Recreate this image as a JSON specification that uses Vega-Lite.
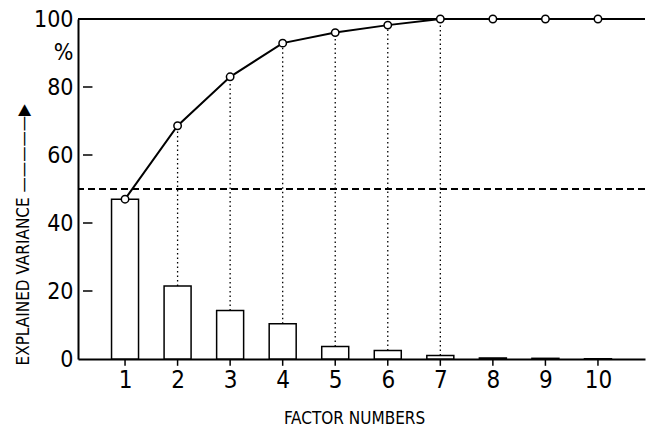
{
  "$schema": "https://vega.github.io/schema/vega-lite/v6.json",
  "width": 567,
  "height": 340,
  "autosize": "none",
  "padding": {"left": 78, "top": 19, "right": 4, "bottom": 67},
  "background": "white",
  "config": {
    "view": {"stroke": null},
    "font": "DejaVu Sans Condensed, DejaVu Sans, sans-serif",
    "axis": {
      "grid": false,
      "ticks": false,
      "domainColor": "black",
      "labelColor": "black",
      "titleColor": "black",
      "labelFont": "DejaVu Sans Condensed, DejaVu Sans, sans-serif",
      "titleFont": "DejaVu Sans Condensed, DejaVu Sans, sans-serif",
      "titleFontWeight": "normal",
      "labelOverlap": false
    }
  },
  "datasets": {
    "factors": [
      {"factor": 1, "var": 47.0, "cum": 47.0},
      {"factor": 2, "var": 21.5, "cum": 68.6},
      {"factor": 3, "var": 14.3, "cum": 83.0},
      {"factor": 4, "var": 10.4, "cum": 92.9},
      {"factor": 5, "var": 3.7, "cum": 96.0},
      {"factor": 6, "var": 2.5, "cum": 98.2},
      {"factor": 7, "var": 1.0, "cum": 100.0},
      {"factor": 8, "var": 0.3, "cum": 100.0},
      {"factor": 9, "var": 0.2, "cum": 100.0},
      {"factor": 10, "var": 0.1, "cum": 100.0}
    ],
    "yticks": [{"v": 20}, {"v": 40}, {"v": 60}, {"v": 80}]
  },
  "data": {"name": "factors"},
  "layer": [
    {
      "mark": {"type": "bar", "width": 27, "fill": "white", "stroke": "black", "strokeWidth": 1.5},
      "encoding": {
        "x": {
          "field": "factor",
          "type": "quantitative",
          "scale": {"domain": [0.2, 10.8], "nice": false, "zero": false},
          "axis": {
            "values": [1, 2, 3, 4, 5, 6, 7, 8, 9, 10],
            "title": "FACTOR NUMBERS",
            "domainWidth": 2,
            "labelFontSize": 24,
            "labelPadding": 9,
            "labelFlush": false,
            "titleFontSize": 17,
            "titleX": 276,
            "titleY": 64,
            "titleBaseline": "alphabetic",
            "titleAlign": "center"
          }
        },
        "y": {
          "field": "var",
          "type": "quantitative",
          "scale": {"domain": [0, 100], "nice": false},
          "axis": {
            "values": [0, 20, 40, 60, 80, 100],
            "title": "EXPLAINED VARIANCE —————▶",
            "domainWidth": 2,
            "labelFontSize": 23,
            "labelPadding": 5,
            "labelLineHeight": 33,
            "labelExpr": "datum.value == 100 ? ['100', '%'] : datum.label",
            "titleFontSize": 17,
            "titleAngle": -90,
            "titleX": -50,
            "titleY": 346,
            "titleAlign": "left",
            "titleBaseline": "alphabetic"
          }
        }
      }
    },
    {
      "mark": {"type": "rule", "color": "black", "strokeWidth": 1.5},
      "encoding": {
        "x": {"field": "factor", "type": "quantitative"},
        "y": {"datum": 0},
        "y2": {"datum": -2}
      }
    },
    {
      "data": {"name": "yticks"},
      "mark": {"type": "rule", "color": "black", "strokeWidth": 1.5},
      "encoding": {
        "y": {"field": "v", "type": "quantitative"},
        "x": {"datum": 0.2},
        "x2": {"datum": 0.38}
      }
    },
    {
      "transform": [{"filter": "datum.factor >= 2 && datum.factor <= 7"}],
      "mark": {"type": "rule", "color": "black", "strokeWidth": 1.3, "strokeDash": [1.5, 3]},
      "encoding": {
        "x": {"field": "factor", "type": "quantitative"},
        "y": {"field": "var", "type": "quantitative"},
        "y2": {"field": "cum"}
      }
    },
    {
      "mark": {"type": "rule", "color": "black", "strokeWidth": 1.3, "strokeDash": [7, 4]},
      "encoding": {"y": {"datum": 50}}
    },
    {
      "mark": {"type": "rule", "color": "black", "strokeWidth": 2},
      "encoding": {"y": {"datum": 100}}
    },
    {
      "mark": {"type": "line", "color": "black", "strokeWidth": 2, "point": {"filled": true, "fill": "white", "stroke": "black", "strokeWidth": 1.5, "size": 55}},
      "encoding": {
        "x": {"field": "factor", "type": "quantitative"},
        "y": {"field": "cum", "type": "quantitative"}
      }
    }
  ]
}
